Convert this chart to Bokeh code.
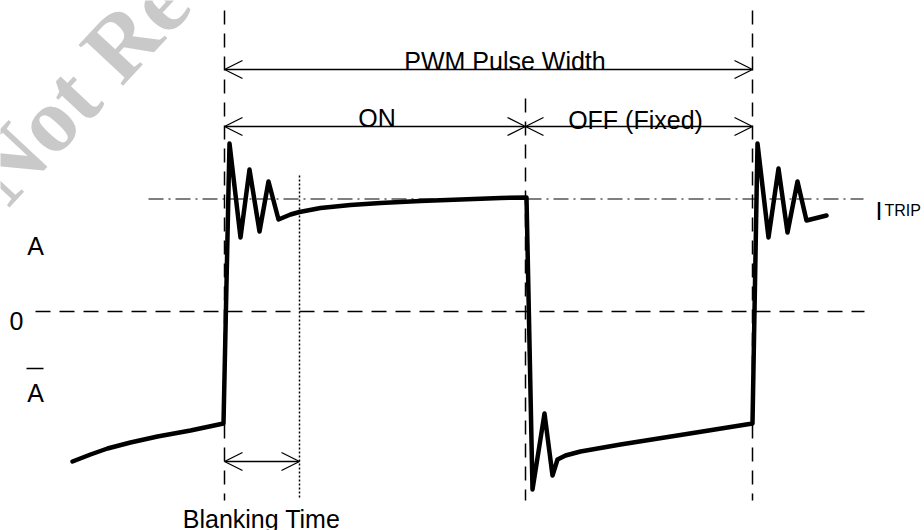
from bokeh.plotting import figure
from bokeh.models import Range1d, Arrow, OpenHead, ColumnDataSource, Label
from bokeh.core.properties import value
from bokeh.embed import file_html
from bokeh.resources import INLINE

# ---- data (time: arbitrary units, 0 = start of PWM pulse; current: 0 = zero line) ----
wave_t = [-152, -134, -117, -94, -67, -34, -1,
          5, 16, 25, 35, 44, 54,
          66, 75, 96, 126, 156, 196, 236, 276, 302,
          308, 320, 328, 333, 341, 356, 396, 456, 528,
          533, 544, 554, 563, 573, 582, 602]
wave_i = [-150, -143, -137, -131, -125, -119, -112,
          168, 74, 142, 80, 130, 92,
          97, 99.5, 103.5, 106.5, 108.5, 110.5, 112, 113.5, 114,
          -178, -102, -164, -148, -144, -140, -133, -123.5, -112,
          168, 74, 143, 79, 130, 91, 96]

t_on_end = 301        # ON -> OFF transition
t_period_end = 528    # end of PWM pulse width
t_blank_end = 75      # end of blanking time
i_trip = 112.5        # trip current level

marker_texts = ["PWM Pulse Width", "ON", "OFF (Fixed)", "Blanking Time"]
level_texts = ["A", "0", "A"]
watermark_text = "Not Recommended for New Designs"

FONT = value("Liberation Sans")

p = figure(width=924, height=530,
           x_range=Range1d(-224, 700), y_range=Range1d(-219, 311),
           output_backend="svg", toolbar_location=None,
           x_axis_location=None, y_axis_location=None,
           min_border=0, min_border_left=0, min_border_right=0,
           min_border_top=0, min_border_bottom=0,
           outline_line_color=None,
           background_fill_color="white", border_fill_color="white")
p.grid.visible = False

# watermark
wm = Label(x=-239, y=124, text=watermark_text, angle=47, angle_units="deg",
           text_font="Liberation Serif", text_font_style="bold",
           text_font_size="92px", text_color="#c9c9c9",
           text_align="left", text_baseline="alphabetic", level="underlay")
p.add_layout(wm)

# reference lines
p.segment(x0=[0, t_period_end, t_on_end], x1=[0, t_period_end, t_on_end],
          y0=[301, 301, 213], y1=[-189, -189, -189],
          line_color="black", line_width=1.5, line_dash="14 9")
p.segment(x0=[-189], x1=[640], y0=[0], y1=[0],
          line_color="black", line_width=1.5, line_dash="15 9")
p.segment(x0=[-76], x1=[639], y0=[i_trip], y1=[i_trip],
          line_color="black", line_width=1.2, line_dash="15 5 2 5")
p.segment(x0=[t_blank_end], x1=[t_blank_end], y0=[136], y1=[-187],
          line_color="black", line_width=1.5, line_dash="2 2")

# waveform
p.line(wave_t, wave_i, line_color="black", line_width=4.5,
       line_join="round", line_cap="round")

# dimension arrows
arr_src = ColumnDataSource(dict(
    x0=[0, 0, t_on_end, 0],
    x1=[t_period_end, t_on_end, t_period_end, t_blank_end],
    y0=[242, 185, 185, -150],
    y1=[242, 185, 185, -150]))
p.add_layout(Arrow(source=arr_src, x_start="x0", y_start="y0", x_end="x1", y_end="y1",
                   line_width=1.3, line_color="black",
                   start=OpenHead(size=18, line_width=1.3, line_color="black"),
                   end=OpenHead(size=18, line_width=1.3, line_color="black")))

# texts
p.text(x=[280.5, 152.5, 411, 37], y=[251, 194, 192, -207], text=marker_texts,
       text_font=FONT, text_font_size="25px", text_color="black",
       text_align="center", text_baseline="alphabetic")
p.text(x=[-189, -208, -189], y=[66, -9, -81], text=level_texts,
       text_font=FONT, text_font_size="25px", text_color="black",
       text_align="center", text_baseline="alphabetic")
# overline for A-bar
p.segment(x0=[-198], x1=[-181], y0=[-57], y1=[-57], line_color="black", line_width=1.5)

# I_TRIP label
p.text(x=[651], y=[101], text=["I"], text_font=FONT, text_font_size="25px",
       text_color="black", text_align="left", text_baseline="alphabetic")
p.text(x=[660], y=[101], text=["TRIP"], text_font=FONT, text_font_size="16px",
       text_color="black", text_align="left", text_baseline="alphabetic")

open("out.html", "w").write(file_html(p, INLINE))
